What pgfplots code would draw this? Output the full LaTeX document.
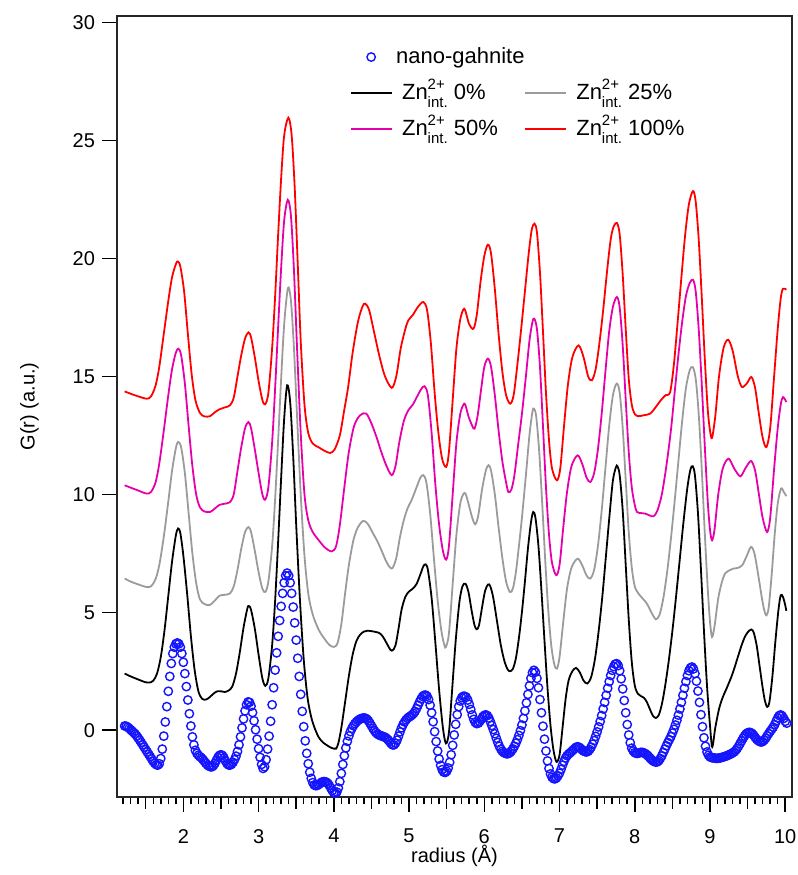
\documentclass[border=0pt]{standalone}
\usepackage{pgfplots}
\pgfplotsset{compat=1.18}
\usepackage{fontspec}
\setmainfont{Liberation Sans}
\definecolor{mygray}{RGB}{155,155,155}
\definecolor{mymag}{RGB}{230,0,170}
\definecolor{myblue}{RGB}{20,20,255}
\newcommand{\zn}{Zn\rlap{\raisebox{5pt}{\fontsize{7.5}{8}\selectfont 2+}}\raisebox{-4pt}{\fontsize{7.5}{8}\selectfont int.}}
\pgfplotstableread{
x y
1.22 0.18
1.24 0.17
1.26 0.13
1.28 0.08
1.30 0.02
1.32 -0.04
1.34 -0.10
1.36 -0.16
1.38 -0.24
1.40 -0.33
1.42 -0.42
1.44 -0.52
1.46 -0.62
1.48 -0.72
1.50 -0.82
1.52 -0.92
1.54 -1.02
1.56 -1.12
1.58 -1.22
1.60 -1.32
1.62 -1.40
1.64 -1.46
1.66 -1.48
1.68 -1.42
1.70 -1.20
1.72 -0.80
1.74 -0.25
1.76 0.35
1.78 1.00
1.80 1.65
1.82 2.28
1.84 2.83
1.86 3.25
1.88 3.52
1.90 3.66
1.92 3.70
1.94 3.66
1.96 3.52
1.98 3.25
2.00 2.88
2.02 2.40
2.04 1.85
2.06 1.28
2.08 0.70
2.10 0.18
2.12 -0.28
2.14 -0.62
2.16 -0.85
2.18 -0.98
2.20 -1.06
2.22 -1.12
2.24 -1.17
2.26 -1.24
2.28 -1.32
2.30 -1.40
2.32 -1.47
2.34 -1.52
2.36 -1.55
2.38 -1.55
2.40 -1.50
2.42 -1.40
2.44 -1.27
2.46 -1.15
2.48 -1.07
2.50 -1.04
2.52 -1.07
2.54 -1.17
2.56 -1.30
2.58 -1.41
2.60 -1.47
2.62 -1.48
2.64 -1.44
2.66 -1.36
2.68 -1.25
2.70 -1.10
2.72 -0.90
2.74 -0.62
2.76 -0.28
2.78 0.10
2.80 0.48
2.82 0.82
2.84 1.08
2.86 1.20
2.88 1.18
2.90 1.02
2.92 0.75
2.94 0.40
2.96 0.02
2.98 -0.38
3.00 -0.78
3.02 -1.15
3.04 -1.45
3.06 -1.62
3.08 -1.55
3.10 -1.25
3.12 -0.80
3.14 -0.25
3.16 0.38
3.18 1.08
3.20 1.80
3.22 2.55
3.24 3.28
3.26 3.98
3.28 4.65
3.30 5.25
3.32 5.80
3.34 6.25
3.36 6.55
3.38 6.66
3.40 6.55
3.42 6.25
3.44 5.80
3.46 5.22
3.48 4.55
3.50 3.82
3.52 3.05
3.54 2.28
3.56 1.52
3.58 0.80
3.60 0.15
3.62 -0.45
3.64 -0.98
3.66 -1.42
3.68 -1.78
3.70 -2.04
3.72 -2.22
3.74 -2.32
3.76 -2.35
3.78 -2.34
3.80 -2.30
3.82 -2.25
3.84 -2.20
3.86 -2.18
3.88 -2.18
3.90 -2.20
3.92 -2.25
3.94 -2.34
3.96 -2.45
3.98 -2.56
4.00 -2.64
4.02 -2.67
4.04 -2.62
4.06 -2.45
4.08 -2.18
4.10 -1.83
4.12 -1.45
4.14 -1.08
4.16 -0.75
4.18 -0.47
4.20 -0.24
4.22 -0.06
4.24 0.08
4.26 0.19
4.28 0.28
4.30 0.35
4.32 0.41
4.34 0.46
4.36 0.49
4.38 0.51
4.40 0.52
4.42 0.51
4.44 0.47
4.46 0.40
4.48 0.30
4.50 0.19
4.52 0.08
4.54 -0.02
4.56 -0.10
4.58 -0.16
4.60 -0.20
4.62 -0.23
4.64 -0.25
4.66 -0.27
4.68 -0.30
4.70 -0.34
4.72 -0.40
4.74 -0.48
4.76 -0.56
4.78 -0.62
4.80 -0.62
4.82 -0.55
4.84 -0.42
4.86 -0.25
4.88 -0.07
4.90 0.10
4.92 0.24
4.94 0.35
4.96 0.44
4.98 0.51
5.00 0.56
5.02 0.60
5.04 0.65
5.06 0.71
5.08 0.80
5.10 0.92
5.12 1.06
5.14 1.20
5.16 1.33
5.18 1.43
5.20 1.48
5.22 1.49
5.24 1.44
5.26 1.30
5.28 1.06
5.30 0.74
5.32 0.36
5.34 -0.06
5.36 -0.48
5.38 -0.88
5.40 -1.22
5.42 -1.49
5.44 -1.67
5.46 -1.77
5.48 -1.79
5.50 -1.74
5.52 -1.60
5.54 -1.36
5.56 -1.04
5.58 -0.64
5.60 -0.20
5.62 0.25
5.64 0.66
5.66 1.00
5.68 1.24
5.70 1.38
5.72 1.44
5.74 1.44
5.76 1.40
5.78 1.28
5.80 1.10
5.82 0.88
5.84 0.65
5.86 0.46
5.88 0.33
5.90 0.28
5.92 0.30
5.94 0.37
5.96 0.47
5.98 0.57
6.00 0.63
6.02 0.65
6.04 0.62
6.06 0.52
6.08 0.37
6.10 0.20
6.12 0.03
6.14 -0.15
6.16 -0.34
6.18 -0.52
6.20 -0.68
6.22 -0.80
6.24 -0.89
6.26 -0.95
6.28 -0.98
6.30 -1.00
6.32 -0.99
6.34 -0.95
6.36 -0.88
6.38 -0.79
6.40 -0.68
6.42 -0.55
6.44 -0.40
6.46 -0.22
6.48 -0.02
6.50 0.22
6.52 0.50
6.54 0.82
6.56 1.16
6.58 1.52
6.60 1.88
6.62 2.20
6.64 2.44
6.66 2.54
6.68 2.46
6.70 2.20
6.72 1.80
6.74 1.30
6.76 0.74
6.78 0.17
6.80 -0.38
6.82 -0.88
6.84 -1.30
6.86 -1.62
6.88 -1.85
6.90 -1.99
6.92 -2.05
6.94 -2.06
6.96 -2.02
6.98 -1.93
7.00 -1.82
7.02 -1.66
7.04 -1.48
7.06 -1.32
7.08 -1.18
7.10 -1.08
7.12 -1.01
7.14 -0.96
7.16 -0.90
7.18 -0.84
7.20 -0.78
7.22 -0.72
7.24 -0.70
7.26 -0.72
7.28 -0.77
7.30 -0.83
7.32 -0.88
7.34 -0.91
7.36 -0.92
7.38 -0.89
7.40 -0.82
7.42 -0.72
7.44 -0.59
7.46 -0.44
7.48 -0.26
7.50 -0.07
7.52 0.14
7.54 0.37
7.56 0.62
7.58 0.90
7.60 1.18
7.62 1.48
7.64 1.78
7.66 2.06
7.68 2.32
7.70 2.54
7.72 2.70
7.74 2.80
7.76 2.82
7.78 2.74
7.80 2.52
7.82 2.18
7.84 1.75
7.86 1.26
7.88 0.74
7.90 0.24
7.92 -0.20
7.94 -0.53
7.96 -0.76
7.98 -0.88
8.00 -0.95
8.02 -0.98
8.04 -0.98
8.06 -0.96
8.08 -0.94
8.10 -0.94
8.12 -0.96
8.14 -0.99
8.16 -1.04
8.18 -1.10
8.20 -1.17
8.22 -1.24
8.24 -1.29
8.26 -1.33
8.28 -1.35
8.30 -1.34
8.32 -1.29
8.34 -1.20
8.36 -1.08
8.38 -0.94
8.40 -0.80
8.42 -0.66
8.44 -0.52
8.46 -0.40
8.48 -0.27
8.50 -0.12
8.52 0.04
8.54 0.22
8.56 0.42
8.58 0.64
8.60 0.90
8.62 1.18
8.64 1.48
8.66 1.78
8.68 2.06
8.70 2.32
8.72 2.52
8.74 2.64
8.76 2.68
8.78 2.60
8.80 2.40
8.82 2.08
8.84 1.66
8.86 1.18
8.88 0.66
8.90 0.15
8.92 -0.32
8.94 -0.68
8.96 -0.92
8.98 -1.06
9.00 -1.13
9.02 -1.16
9.04 -1.17
9.06 -1.18
9.08 -1.19
9.10 -1.19
9.12 -1.18
9.14 -1.17
9.16 -1.15
9.18 -1.13
9.20 -1.11
9.22 -1.09
9.24 -1.06
9.26 -1.03
9.28 -1.00
9.30 -0.96
9.32 -0.92
9.34 -0.86
9.36 -0.78
9.38 -0.68
9.40 -0.57
9.42 -0.45
9.44 -0.34
9.46 -0.24
9.48 -0.16
9.50 -0.11
9.52 -0.09
9.54 -0.10
9.56 -0.14
9.58 -0.21
9.60 -0.30
9.62 -0.38
9.64 -0.44
9.66 -0.48
9.68 -0.50
9.70 -0.48
9.72 -0.42
9.74 -0.34
9.76 -0.24
9.78 -0.14
9.80 -0.05
9.82 0.04
9.84 0.13
9.86 0.24
9.88 0.38
9.90 0.52
9.92 0.62
9.94 0.65
9.96 0.60
9.98 0.50
10.00 0.38
10.02 0.30
}\bluedata
\begin{document}
\begin{tikzpicture}
\begin{axis}[
 scale only axis, width=337.5pt, height=390.5pt,
 xmin=1.118, xmax=10.09, ymin=-2.83, ymax=30.27,
 xtick={2,...,10}, ytick={0,5,...,30},
 minor xtick={1.2,1.3,1.4,1.6,1.7,1.8,1.9,2.1,2.2,2.3,2.4,2.6,2.7,2.8,2.9,3.1,3.2,3.3,3.4,3.6,3.7,3.8,3.9,4.1,4.2,4.3,4.4,4.6,4.7,4.8,4.9,5.1,5.2,5.3,5.4,5.6,5.7,5.8,5.9,6.1,6.2,6.3,6.4,6.6,6.7,6.8,6.9,7.1,7.2,7.3,7.4,7.6,7.7,7.8,7.9,8.1,8.2,8.3,8.4,8.6,8.7,8.8,8.9,9.1,9.2,9.3,9.4,9.6,9.7,9.8,9.9},
 extra x ticks={1.5,2.5,3.5,4.5,5.5,6.5,7.5,8.5,9.5}, extra x tick labels={},
 extra x tick style={major tick length=5.8pt},
 tick align=outside, xtick pos=bottom, ytick pos=left,
 major tick length=7.5pt, minor tick length=3.7pt,
 every tick/.style={black, line width=0.75pt},
 axis line style={line width=1.1pt, black!85},
 tick label style={font=\fontsize{10}{12}\selectfont},
 xticklabel style={yshift=-5pt},
 /pgf/number format/assume math mode=true,
 xlabel={radius (Å)}, ylabel={G(r) (a.u.)},
 label style={font=\fontsize{10}{12}\selectfont},
 every axis x label/.style={at={(axis description cs:0.5,-0.0755)},anchor=center},
 every axis y label/.style={at={(axis description cs:-0.1296,0.5)},rotate=90,anchor=center},
 legend columns=2,
 legend cell align=left,
 legend style={draw=none, fill=none, at={(rel axis cs:0.345,0.971)}, anchor=north west,
   font=\fontsize{11}{13}\selectfont, inner sep=0pt,
   nodes={inner sep=0pt, text height=12pt, text depth=6pt},
   /tikz/every odd column/.append style={column sep=5pt},
   /tikz/every even column/.append style={column sep=0pt}},
 legend image code/.code={\draw[mark repeat=2,mark phase=2,#1] plot coordinates {(0pt,0pt) (10pt,0pt) (20pt,0pt)};},
]
\addplot[only marks, mark=o, mark size=2.1pt, color=myblue, mark options={line width=0.7pt}] table {\bluedata};
\addlegendentry{\hspace{-3pt}nano-gahnite}
\addlegendimage{empty legend}
\addlegendentry{}
\addplot[black, line width=0.9pt, smooth] coordinates {
(1.22,2.40) (1.30,2.28) (1.40,2.15) (1.50,2.03) (1.55,2.02) (1.60,2.10) (1.65,2.40) (1.70,3.10) (1.75,4.25) (1.80,5.70) (1.85,7.15) (1.90,8.25) (1.93,8.55) (1.96,8.35) (2.00,7.40) (2.05,5.80) (2.10,4.00) (2.15,2.55) (2.20,1.65) (2.25,1.33) (2.30,1.30) (2.35,1.40) (2.40,1.55) (2.45,1.65) (2.50,1.65) (2.55,1.62) (2.60,1.68) (2.65,1.85) (2.70,2.40) (2.75,3.30) (2.80,4.35) (2.85,5.15) (2.87,5.27) (2.90,5.10) (2.95,4.30) (3.00,3.20) (3.05,2.20) (3.09,1.88) (3.13,2.20) (3.18,3.60) (3.22,5.50) (3.26,8.00) (3.30,10.70) (3.34,13.20) (3.38,14.62) (3.42,13.90) (3.46,11.60) (3.50,8.70) (3.55,5.50) (3.60,3.00) (3.65,1.40) (3.70,0.55) (3.75,0.05) (3.80,-0.30) (3.85,-0.50) (3.90,-0.62) (3.95,-0.72) (4.00,-0.78) (4.03,-0.78) (4.06,-0.55) (4.10,0.10) (4.15,1.20) (4.20,2.30) (4.25,3.20) (4.30,3.78) (4.35,4.05) (4.40,4.18) (4.45,4.22) (4.50,4.20) (4.55,4.17) (4.60,4.13) (4.65,3.98) (4.70,3.70) (4.75,3.42) (4.78,3.38) (4.82,3.60) (4.86,4.30) (4.90,5.10) (4.95,5.65) (5.00,5.88) (5.05,6.00) (5.10,6.20) (5.15,6.60) (5.19,6.95) (5.22,7.03) (5.25,6.80) (5.30,5.60) (5.35,3.70) (5.40,1.70) (5.45,0.10) (5.49,-0.56) (5.53,-0.10) (5.57,1.60) (5.62,3.80) (5.67,5.45) (5.71,6.10) (5.75,6.21) (5.79,5.85) (5.83,5.10) (5.87,4.45) (5.90,4.28) (5.93,4.45) (5.97,5.20) (6.01,5.90) (6.05,6.18) (6.08,6.10) (6.12,5.60) (6.17,4.60) (6.22,3.60) (6.27,2.90) (6.31,2.58) (6.34,2.50) (6.38,2.60) (6.42,3.05) (6.46,3.90) (6.50,5.00) (6.54,6.30) (6.58,7.70) (6.62,8.80) (6.65,9.25) (6.68,9.00) (6.72,7.80) (6.76,5.90) (6.80,3.80) (6.84,1.80) (6.88,0.20) (6.92,-0.85) (6.96,-1.34) (7.00,-1.05) (7.04,0.10) (7.08,1.30) (7.12,2.10) (7.17,2.50) (7.22,2.64) (7.27,2.45) (7.32,2.10) (7.37,1.98) (7.42,2.25) (7.47,3.00) (7.52,4.20) (7.57,5.70) (7.62,7.50) (7.67,9.30) (7.71,10.60) (7.75,11.15) (7.77,11.19) (7.80,10.80) (7.84,9.30) (7.88,7.00) (7.92,4.70) (7.96,2.90) (8.00,1.90) (8.04,1.55) (8.08,1.45) (8.12,1.38) (8.16,1.20) (8.20,0.90) (8.24,0.62) (8.28,0.52) (8.32,0.65) (8.36,1.10) (8.40,1.80) (8.45,2.90) (8.50,4.20) (8.55,5.70) (8.60,7.30) (8.65,8.90) (8.70,10.30) (8.74,11.05) (8.77,11.19) (8.80,10.80) (8.84,9.20) (8.88,6.80) (8.92,4.20) (8.96,1.90) (9.00,0.20) (9.03,-0.71) (9.07,0.10) (9.12,0.90) (9.17,1.40) (9.23,1.84) (9.30,2.40) (9.36,3.00) (9.42,3.60) (9.47,4.00) (9.52,4.22) (9.55,4.27) (9.58,4.15) (9.62,3.60) (9.66,2.70) (9.70,1.80) (9.73,1.25) (9.76,0.99) (9.79,1.20) (9.83,2.30) (9.87,3.80) (9.91,5.10) (9.94,5.72) (9.97,5.65) (10.00,5.30) (10.015,5.06)};
\addlegendentry{\zn\ 0\%}
\addplot[mygray, line width=0.9pt, smooth] coordinates {
(1.22,6.43) (1.30,6.30) (1.40,6.18) (1.51,6.07) (1.57,6.10) (1.63,6.40) (1.68,7.00) (1.74,8.20) (1.80,9.70) (1.85,11.00) (1.90,11.95) (1.93,12.22) (1.97,12.00) (2.02,10.90) (2.07,9.20) (2.12,7.50) (2.17,6.25) (2.22,5.55) (2.28,5.35) (2.35,5.30) (2.42,5.50) (2.48,5.70) (2.55,5.74) (2.62,5.80) (2.67,6.10) (2.72,6.80) (2.77,7.70) (2.82,8.40) (2.865,8.61) (2.90,8.40) (2.95,7.60) (3.00,6.70) (3.05,6.00) (3.09,5.86) (3.13,6.30) (3.18,7.80) (3.22,9.80) (3.26,12.30) (3.30,14.90) (3.34,17.20) (3.39,18.74) (3.43,18.20) (3.47,16.20) (3.51,13.40) (3.56,10.00) (3.61,7.40) (3.66,5.80) (3.72,4.90) (3.80,4.25) (3.87,3.90) (3.94,3.62) (4.00,3.53) (4.05,3.70) (4.10,4.50) (4.15,5.80) (4.20,7.00) (4.26,8.05) (4.32,8.60) (4.39,8.87) (4.45,8.75) (4.52,8.35) (4.58,8.00) (4.63,7.65) (4.69,7.20) (4.74,6.92) (4.78,6.87) (4.83,7.30) (4.88,8.20) (4.93,8.90) (4.98,9.40) (5.04,9.80) (5.10,10.30) (5.15,10.70) (5.19,10.81) (5.23,10.50) (5.28,9.20) (5.33,7.30) (5.38,5.50) (5.43,4.20) (5.47,3.60) (5.49,3.53) (5.53,4.10) (5.58,6.20) (5.63,8.30) (5.68,9.60) (5.72,10.00) (5.75,10.03) (5.79,9.60) (5.84,9.00) (5.88,8.73) (5.92,9.10) (5.97,10.20) (6.02,11.00) (6.056,11.23) (6.09,11.00) (6.14,10.00) (6.19,8.60) (6.24,7.30) (6.29,6.30) (6.34,5.86) (6.38,6.00) (6.42,6.70) (6.46,7.80) (6.50,9.00) (6.55,10.70) (6.60,12.50) (6.64,13.50) (6.66,13.63) (6.69,13.30) (6.73,11.80) (6.77,9.60) (6.81,7.20) (6.85,5.10) (6.89,3.60) (6.93,2.80) (6.965,2.61) (7.00,3.10) (7.05,4.60) (7.10,6.00) (7.16,6.90) (7.24,7.27) (7.30,7.00) (7.36,6.55) (7.41,6.43) (7.46,6.80) (7.51,7.80) (7.56,9.30) (7.61,11.10) (7.66,12.90) (7.71,14.20) (7.76,14.69) (7.80,14.30) (7.84,12.80) (7.88,10.60) (7.92,8.40) (7.96,6.90) (8.00,6.10) (8.05,5.79) (8.10,5.60) (8.16,5.37) (8.22,5.00) (8.28,4.70) (8.33,4.90) (8.38,5.60) (8.43,6.70) (8.48,8.10) (8.53,9.70) (8.58,11.40) (8.63,13.10) (8.68,14.50) (8.73,15.25) (8.77,15.39) (8.81,14.90) (8.85,13.40) (8.89,11.10) (8.93,8.40) (8.97,6.00) (9.00,4.60) (9.027,3.95) (9.06,4.40) (9.11,5.60) (9.16,6.30) (9.20,6.64) (9.26,6.78) (9.31,6.85) (9.37,6.88) (9.43,7.00) (9.49,7.40) (9.545,7.77) (9.59,7.50) (9.64,6.60) (9.69,5.60) (9.72,5.10) (9.75,4.87) (9.78,5.20) (9.82,6.60) (9.86,8.30) (9.90,9.60) (9.944,10.24) (9.98,10.10) (10.015,9.92)};
\addlegendentry{\zn\ 25\%}
\addplot[mymag, line width=0.9pt, smooth] coordinates {
(1.22,10.38) (1.30,10.28) (1.40,10.16) (1.51,10.03) (1.57,10.10) (1.63,10.50) (1.68,11.30) (1.74,12.70) (1.80,14.20) (1.85,15.30) (1.90,16.00) (1.934,16.17) (1.97,15.90) (2.02,14.70) (2.07,12.90) (2.12,11.20) (2.17,10.00) (2.22,9.45) (2.28,9.27) (2.355,9.25) (2.42,9.40) (2.48,9.55) (2.55,9.60) (2.62,9.67) (2.67,10.00) (2.72,11.00) (2.77,12.00) (2.82,12.80) (2.865,13.06) (2.90,12.80) (2.95,11.90) (3.00,10.90) (3.05,10.00) (3.087,9.77) (3.13,10.30) (3.18,12.20) (3.22,14.50) (3.26,17.10) (3.30,19.60) (3.34,21.60) (3.388,22.48) (3.43,21.80) (3.47,19.50) (3.51,16.30) (3.56,12.60) (3.61,10.00) (3.66,8.90) (3.72,8.40) (3.80,8.05) (3.88,7.75) (3.97,7.58) (4.03,7.80) (4.08,8.70) (4.14,10.30) (4.20,11.80) (4.27,12.90) (4.35,13.35) (4.43,13.42) (4.50,13.00) (4.57,12.40) (4.63,11.80) (4.70,11.20) (4.77,10.81) (4.82,11.20) (4.87,12.20) (4.93,13.10) (4.99,13.56) (5.05,13.80) (5.10,14.10) (5.16,14.45) (5.205,14.58) (5.25,14.20) (5.30,12.60) (5.35,10.40) (5.40,8.70) (5.45,7.60) (5.493,7.23) (5.53,7.80) (5.58,10.00) (5.63,12.20) (5.68,13.40) (5.72,13.78) (5.746,13.81) (5.79,13.30) (5.84,12.90) (5.87,12.78) (5.91,13.30) (5.96,14.50) (6.00,15.40) (6.048,15.75) (6.09,15.40) (6.14,14.20) (6.19,12.70) (6.24,11.40) (6.29,10.50) (6.32,10.10) (6.36,10.20) (6.40,10.80) (6.45,12.10) (6.50,13.40) (6.55,14.90) (6.60,16.50) (6.64,17.30) (6.664,17.44) (6.70,17.00) (6.74,15.40) (6.78,12.90) (6.82,10.30) (6.86,8.30) (6.90,7.10) (6.956,6.57) (7.00,7.00) (7.05,8.60) (7.10,10.10) (7.16,11.20) (7.24,11.65) (7.30,11.30) (7.36,10.70) (7.41,10.52) (7.46,10.90) (7.51,11.90) (7.56,13.40) (7.61,15.20) (7.66,16.90) (7.71,17.95) (7.763,18.36) (7.80,17.90) (7.84,16.30) (7.88,14.00) (7.92,11.80) (7.96,10.30) (8.00,9.55) (8.03,9.25) (8.09,9.20) (8.14,9.18) (8.20,9.10) (8.25,9.07) (8.30,9.30) (8.36,10.00) (8.42,11.20) (8.48,12.70) (8.53,14.30) (8.58,15.90) (8.63,17.30) (8.68,18.40) (8.73,18.95) (8.774,19.09) (8.81,18.60) (8.85,17.00) (8.89,14.70) (8.93,12.10) (8.97,9.70) (9.00,8.50) (9.027,8.05) (9.06,8.50) (9.11,10.00) (9.17,11.10) (9.247,11.51) (9.32,11.10) (9.403,10.76) (9.47,11.10) (9.545,11.41) (9.60,11.00) (9.65,10.00) (9.70,9.00) (9.758,8.40) (9.80,9.00) (9.85,11.00) (9.90,12.80) (9.94,13.80) (9.97,14.12) (10.015,13.91)};
\addlegendentry{\zn\ 50\%}
\addplot[red, line width=0.9pt, smooth] coordinates {
(1.22,14.36) (1.30,14.26) (1.40,14.15) (1.513,14.05) (1.57,14.15) (1.63,14.60) (1.68,15.40) (1.74,16.80) (1.80,18.20) (1.85,19.20) (1.90,19.75) (1.926,19.87) (1.96,19.65) (2.01,18.60) (2.06,16.80) (2.11,15.10) (2.16,14.00) (2.22,13.45) (2.28,13.30) (2.355,13.31) (2.42,13.48) (2.48,13.60) (2.55,13.68) (2.62,13.77) (2.67,14.10) (2.72,15.00) (2.77,15.90) (2.82,16.60) (2.865,16.86) (2.90,16.65) (2.95,15.80) (3.00,14.80) (3.05,14.00) (3.087,13.81) (3.13,14.30) (3.18,16.20) (3.22,18.40) (3.26,21.00) (3.30,23.40) (3.34,25.20) (3.396,25.96) (3.44,25.20) (3.48,23.00) (3.52,19.80) (3.56,16.50) (3.61,13.80) (3.66,12.60) (3.72,12.15) (3.795,12.00) (3.87,11.85) (3.95,11.75) (4.01,11.90) (4.08,12.50) (4.14,13.60) (4.19,14.54) (4.25,16.00) (4.32,17.30) (4.38,17.95) (4.416,18.08) (4.47,17.80) (4.54,16.80) (4.61,15.80) (4.68,15.00) (4.77,14.51) (4.83,15.00) (4.89,16.20) (4.95,17.00) (4.99,17.37) (5.05,17.60) (5.12,17.95) (5.19,18.15) (5.24,17.80) (5.29,16.40) (5.34,14.30) (5.39,12.60) (5.44,11.50) (5.493,11.16) (5.53,11.80) (5.58,14.00) (5.63,16.20) (5.68,17.40) (5.72,17.82) (5.746,17.80) (5.80,17.20) (5.857,17.02) (5.90,17.60) (5.95,19.00) (6.00,20.10) (6.048,20.58) (6.09,20.20) (6.14,18.70) (6.19,16.80) (6.24,15.20) (6.29,14.20) (6.344,13.84) (6.39,14.20) (6.44,15.50) (6.49,17.00) (6.54,18.60) (6.59,20.20) (6.63,21.20) (6.667,21.47) (6.70,21.10) (6.74,19.40) (6.78,16.90) (6.82,14.30) (6.86,12.30) (6.90,11.10) (6.965,10.59) (7.01,11.10) (7.06,12.90) (7.11,14.60) (7.17,15.80) (7.253,16.31) (7.32,15.80) (7.38,15.00) (7.43,14.83) (7.48,15.30) (7.53,16.40) (7.58,17.80) (7.63,19.40) (7.68,20.80) (7.72,21.35) (7.763,21.50) (7.80,21.00) (7.84,19.30) (7.88,17.00) (7.92,14.90) (7.96,13.80) (8.00,13.40) (8.05,13.31) (8.12,13.35) (8.206,13.42) (8.28,13.70) (8.35,14.00) (8.41,14.20) (8.47,14.33) (8.52,15.50) (8.57,17.30) (8.62,19.20) (8.67,21.00) (8.72,22.30) (8.774,22.85) (8.81,22.40) (8.85,20.80) (8.89,18.40) (8.93,15.80) (8.97,13.60) (9.00,12.70) (9.027,12.39) (9.07,13.30) (9.12,15.00) (9.18,16.20) (9.24,16.55) (9.30,16.10) (9.37,15.00) (9.425,14.55) (9.49,14.70) (9.55,14.97) (9.60,14.50) (9.65,13.40) (9.70,12.40) (9.75,12.00) (9.80,12.80) (9.85,14.90) (9.90,17.00) (9.94,18.30) (9.97,18.71) (10.015,18.67)};
\addlegendentry{\zn\ 100\%}
\end{axis}
\pgfresetboundingbox
\path ([shift={(-58.5pt,-39pt)}]current axis.south west) rectangle ([shift={(2.5pt,8pt)}]current axis.north east);
\end{tikzpicture}
\end{document}
